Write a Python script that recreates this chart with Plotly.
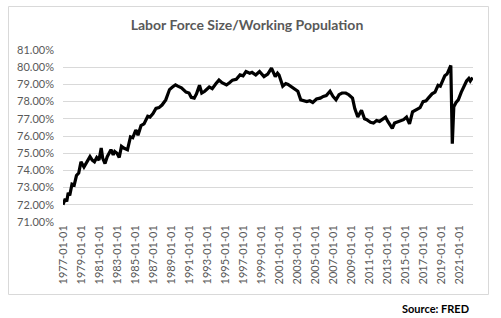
import plotly.graph_objects as go

# Readings from the reference (percent)
dates = [
    "1977-01", "1977-04", "1977-06", "1977-08", "1977-10", "1978-01", "1978-04", "1978-07", "1978-10",
    "1979-01", "1979-05", "1979-09", "1980-01", "1980-04", "1980-07", "1980-10", "1981-01", "1981-04",
    "1981-06", "1981-09", "1981-12", "1982-05", "1982-08", "1982-10", "1983-01", "1983-04", "1983-07",
    "1983-10", "1984-03", "1984-07", "1984-10", "1985-02", "1985-05", "1985-09", "1986-01", "1986-06",
    "1986-09", "1987-01", "1987-05", "1987-09", "1988-01", "1988-06", "1988-11", "1989-03", "1989-07",
    "1989-10", "1990-03", "1990-09", "1991-01", "1991-04", "1991-08", "1991-11", "1992-03", "1992-06",
    "1992-10", "1993-04", "1993-08", "1994-01", "1994-05", "1994-09", "1995-03", "1995-07", "1995-11",
    "1996-04", "1996-09", "1997-01", "1997-05", "1997-10", "1998-01", "1998-06", "1998-11", "1999-05",
    "1999-10", "2000-03", "2000-08", "2000-11", "2001-01", "2001-06", "2001-10", "2002-01", "2002-07",
    "2002-10", "2003-02", "2003-06", "2003-10", "2004-02", "2004-06", "2004-10", "2005-03", "2005-08",
    "2005-12", "2006-04", "2006-09", "2007-01", "2007-05", "2007-09", "2008-01", "2008-06", "2008-10",
    "2009-03", "2009-06", "2009-10", "2010-03", "2010-07", "2010-10", "2011-03", "2011-07", "2011-11",
    "2012-03", "2012-07", "2012-11", "2013-02", "2013-08", "2013-11", "2014-03", "2014-08", "2014-11",
    "2015-03", "2015-07", "2015-11", "2016-04", "2016-09", "2017-01", "2017-05", "2017-08", "2018-01",
    "2018-05", "2018-09", "2018-12", "2019-03", "2019-06", "2019-09", "2020-02", "2020-04", "2020-06",
    "2020-09", "2020-12", "2021-04", "2021-08", "2021-11", "2022-02", "2022-04", "2022-07",
]
ratio = [
    72.0, 72.35, 72.2, 72.7, 72.55, 73.2, 73.15, 73.7, 73.85,
    74.5, 74.2, 74.55, 74.8, 74.6, 74.5, 74.75, 74.6, 75.3,
    74.7, 74.4, 74.8, 75.2, 74.9, 75.1, 75.0, 74.75, 75.4,
    75.3, 75.2, 75.95, 75.9, 76.35, 76.05, 76.6, 76.7, 77.15,
    77.1, 77.3, 77.6, 77.65, 77.8, 78.1, 78.7, 78.85, 78.97,
    78.9, 78.8, 78.55, 78.5, 78.25, 78.2, 78.45, 78.95, 78.5,
    78.6, 78.85, 78.75, 79.05, 79.25, 79.1, 78.97, 79.1, 79.25,
    79.3, 79.55, 79.5, 79.75, 79.65, 79.7, 79.55, 79.75, 79.45,
    79.6, 79.95, 79.45, 79.65, 79.55, 78.9, 79.05, 79.0, 78.8,
    78.75, 78.6, 78.1, 78.05, 78.0, 78.05, 77.95, 78.15, 78.2,
    78.3, 78.35, 78.6, 78.3, 78.1, 78.4, 78.5, 78.5, 78.4,
    78.2, 77.6, 77.1, 77.5, 77.0, 76.95, 76.8, 76.75, 76.9,
    76.85, 76.95, 77.1, 76.85, 76.45, 76.75, 76.8, 76.9, 76.95,
    77.1, 76.7, 77.4, 77.5, 77.65, 78.0, 78.05, 78.2, 78.45,
    78.55, 78.95, 78.9, 79.2, 79.5, 79.6, 80.1, 75.55, 77.7,
    77.95, 78.1, 78.55, 78.9, 79.2, 79.35, 79.2, 79.4,
]

title_text = "Labor Force Size/Working Population"
source_text = "Source: FRED"

FONT = "Lato"
GRAY = "#595959"
GRID = "#d9d9d9"

W, H = 501, 318
L, R, T, B = 63, 28, 50, 96
pw, ph = W - L - R, H - T - B

def px_x(p):
    return (p - L) / pw

def px_y(p):
    return (H - B - p) / ph

fig = go.Figure()
fig.add_trace(go.Scatter(
    x=dates, y=ratio, mode="lines",
    line=dict(color="black", width=3.2), hoverinfo="skip", showlegend=False,
))

fig.update_layout(
    width=W, height=H,
    margin=dict(l=L, r=R, t=T, b=B),
    paper_bgcolor="white", plot_bgcolor="white",
    font=dict(family=FONT, size=11, color=GRAY),
    showlegend=False,
    title=dict(
        text=title_text, x=px_x(247) * 0 + 247 / W, xanchor="center",
        y=1 - 25 / H, yanchor="middle",
        font=dict(family=FONT, size=14, color=GRAY, weight="bold"),
    ),
    xaxis=dict(
        type="date", range=["1977-01-01", "2022-07-20"],
        tick0="1977-01-01", dtick="M24", tickformat="%Y-%m-%d",
        tickangle=-90, showgrid=False, zeroline=False,
        showline=False, ticks="", ticklen=0,
        tickfont=dict(family=FONT, size=11, color=GRAY),
    ),
    yaxis=dict(
        range=[71, 81], dtick=1, tick0=71, tickformat=".2f", ticksuffix="%",
        showgrid=True, gridcolor=GRID, gridwidth=1, zeroline=False,
        showline=False, ticks="", ticklabelstandoff=8,
        tickfont=dict(family=FONT, size=11, color=GRAY),
    ),
    shapes=[dict(
        type="rect", xref="paper", yref="paper",
        x0=px_x(8.5), x1=px_x(488.5), y0=px_y(294.5), y1=px_y(6.5),
        line=dict(color=GRID, width=1), fillcolor="rgba(0,0,0,0)", layer="below",
    )],
    annotations=[dict(
        text="<b>" + source_text + "</b>", xref="paper", yref="paper",
        x=px_x(471), y=px_y(308), xanchor="right", yanchor="middle",
        showarrow=False, font=dict(family=FONT, size=11, color="black"),
    )],
)

fig.write_html("out.html")
